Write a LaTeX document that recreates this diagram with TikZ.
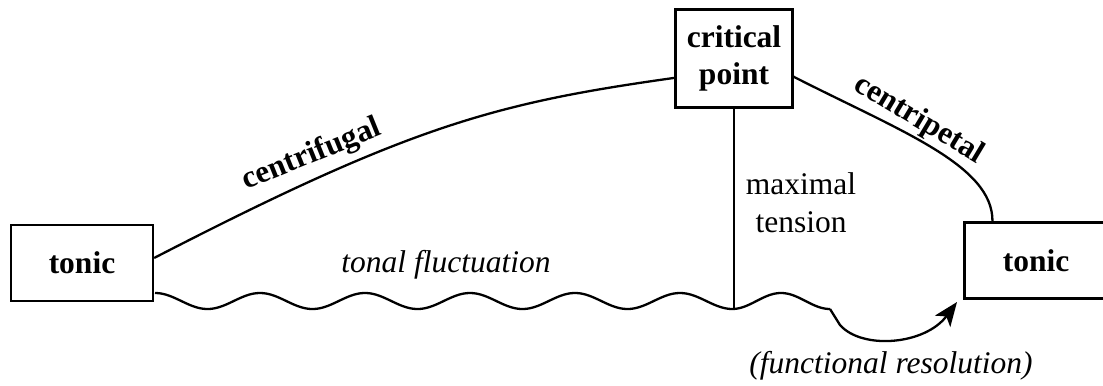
\documentclass[tikz,border=0pt]{standalone}
\usepackage{fontspec}
\setmainfont{Liberation Serif}
\usetikzlibrary{arrows.meta}
\begin{document}
\begin{tikzpicture}[x=1bp,y=-1bp,
  every node/.style={font=\fontsize{31.5bp}{38bp}\selectfont, inner sep=0pt},
  box/.style={draw, line width=2.4bp, fill=white, font=\fontsize{31.5bp}{37bp}\selectfont\bfseries, align=center},
  link/.style={line width=2.3bp},
  lbl/.style={font=\fontsize{31.5bp}{37bp}\selectfont\bfseries},
  note/.style={font=\fontsize{31.5bp}{37bp}\selectfont\itshape, anchor=base}]
\useasboundingbox (0,0) rectangle (1103,385);
\begin{scope}
\clip (0,0) rectangle (1103,385);
\node[box, minimum width=142bp, minimum height=76bp] (tonicL) at (82,263) {tonic};
\node[box, minimum width=117bp, minimum height=98bp] (critical) at (734,58.5) {critical\\point};
\node[box, minimum width=143bp, minimum height=76bp] (tonicR) at (1036,260.5) {tonic};

\coordinate (mt) at (732,309);
\coordinate (corner) at (830,309);
\coordinate (tip) at (957,302);

% centrifugal arc
\draw[link] (tonicL.4) .. controls (410,126) and (495,103) .. (critical.198);
% centripetal arc
\draw[link] (critical.-17) .. controls (900,131) and (993,165) .. (tonicR.138);
% maximal tension line
\draw[link] (critical.south) -- (critical.south |- mt);
% wave
\draw[link, line join=round] plot[domain=155:732, samples=240] (\x, {301-8*cos((\x-155)*3.428571)})
  -- plot[domain=732:830, samples=60] (\x, {301+8*cos((\x-732)*3.673469)});
% functional resolution arrow
\draw[link, -{Stealth[length=24bp, width=19bp, inset=6bp]}] (corner) -- (840,325) .. controls (862,350) and (925,345) .. (tip);

\node[lbl, rotate=22] (cf) at (312,155) {centrifugal};
\node[lbl, rotate=-31] (cp) at (919,120) {centripetal};
\node[align=center] (mx) at (801,203) {maximal\\tension};
\node[note] (tf) at (446,272) {tonal fluctuation};
\node[note] (fr) at (891,373) {(functional resolution)};
\end{scope}
\end{tikzpicture}
\end{document}
